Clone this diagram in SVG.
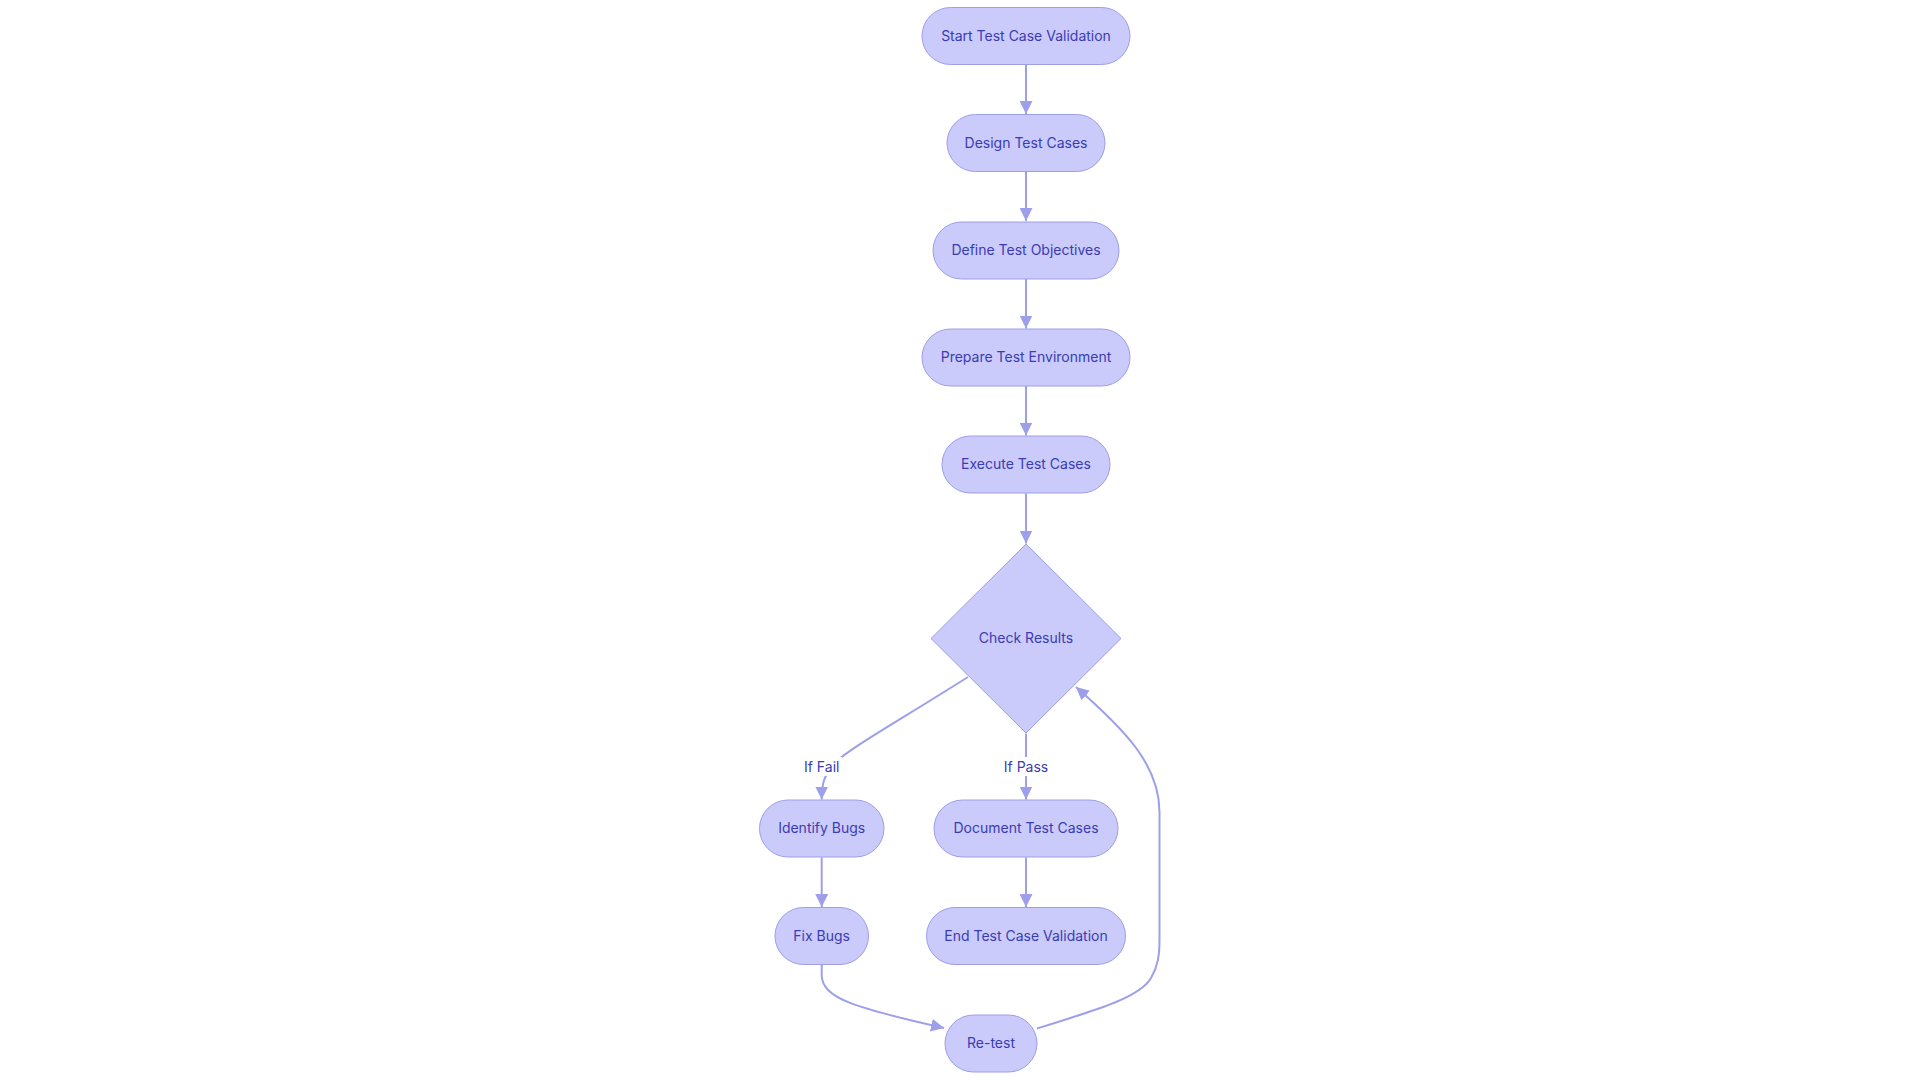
<svg xmlns="http://www.w3.org/2000/svg" width="1920" height="1080" viewBox="0 0 1920 1080">
<style>
  .node rect, .node polygon { fill: #cacbfb; stroke: #9c9ee6; stroke-width: 1; }
  .node text { font-family: Inter, "Noto Sans", "Liberation Sans", sans-serif; font-size: 14px; fill: #3b3bb3; text-anchor: middle; }
  .edge { fill: none; stroke: #9d9fea; stroke-width: 2; }
  .lbl rect { fill: #ffffff; }
  .lbl text { font-family: Inter, "Noto Sans", "Liberation Sans", sans-serif; font-size: 14px; fill: #3b3bb3; text-anchor: middle; }
</style>
<defs>
  <marker id="arrow" viewBox="0 0 10 10" refX="10" refY="5" markerWidth="13" markerHeight="13" markerUnits="userSpaceOnUse" orient="auto">
    <path d="M0,0 L10,5 L0,10 z" fill="#9d9fea"/>
  </marker>
</defs>
<rect width="1920" height="1080" fill="#ffffff"/>
<g id="connectors">
  <path class="edge" d="M1026,64.5 L1026,114" marker-end="url(#arrow)"/>
  <path class="edge" d="M1026,171.5 L1026,221" marker-end="url(#arrow)"/>
  <path class="edge" d="M1026,279 L1026,328.5" marker-end="url(#arrow)"/>
  <path class="edge" d="M1026,386 L1026,435.5" marker-end="url(#arrow)"/>
  <path class="edge" d="M1026,493.5 L1026,543.5" marker-end="url(#arrow)"/>
  <path class="edge" d="M968,677 C 900,720 850,748 836,762 C 824,774 821.7,784 821.7,799.5" marker-end="url(#arrow)"/>
  <path class="edge" d="M1026,733.5 L1026,799.5" marker-end="url(#arrow)"/>
  <path class="edge" d="M821.7,857.5 L821.7,907" marker-end="url(#arrow)"/>
  <path class="edge" d="M1026,857.5 L1026,907" marker-end="url(#arrow)"/>
  <path class="edge" d="M821.7,964.5 L821.7,975 C 821.7,998 855,1008 944,1028" marker-end="url(#arrow)"/>
  <path class="edge" d="M1037,1028.5 C 1100,1009 1140,997 1151,978 C 1158,966 1159.5,955 1159.5,940 L1159.5,812 C 1159.5,765 1125,730 1076,687" marker-end="url(#arrow)"/>
</g>
<g id="edge-labels">
  <g class="lbl"><rect x="802" y="757" width="40" height="19"/><text x="821.7" y="771.5">If Fail</text></g>
  <g class="lbl"><rect x="1003" y="757" width="46" height="19"/><text x="1026" y="771.5">If Pass</text></g>
</g>
<g id="n-start" class="node"><rect x="922" y="7.5" width="208" height="57" rx="28.5"/><text x="1026" y="40.5">Start Test Case Validation</text></g>
<g id="n-design" class="node"><rect x="947" y="114.5" width="158" height="57" rx="28.5"/><text x="1026" y="147.5">Design Test Cases</text></g>
<g id="n-define" class="node"><rect x="933" y="222" width="186" height="57" rx="28.5"/><text x="1026" y="255">Define Test Objectives</text></g>
<g id="n-prepare" class="node"><rect x="922" y="329" width="208" height="57" rx="28.5"/><text x="1026" y="362">Prepare Test Environment</text></g>
<g id="n-execute" class="node"><rect x="942" y="436" width="168" height="57" rx="28.5"/><text x="1026" y="469">Execute Test Cases</text></g>
<g id="n-check" class="node"><polygon points="1026,544 1121,638.5 1026,733 931,638.5"/><text x="1026" y="643">Check Results</text></g>
<g id="n-identify" class="node"><rect x="759.5" y="800" width="124.5" height="57" rx="28.5"/><text x="821.7" y="833">Identify Bugs</text></g>
<g id="n-document" class="node"><rect x="934" y="800" width="184" height="57" rx="28.5"/><text x="1026" y="833">Document Test Cases</text></g>
<g id="n-fix" class="node"><rect x="775" y="907.5" width="93.5" height="57" rx="28.5"/><text x="821.7" y="940.5">Fix Bugs</text></g>
<g id="n-end" class="node"><rect x="926.5" y="907.5" width="199" height="57" rx="28.5"/><text x="1026" y="940.5">End Test Case Validation</text></g>
<g id="n-retest" class="node"><rect x="945" y="1015" width="92" height="57" rx="28.5"/><text x="991" y="1048">Re-test</text></g>
</svg>
